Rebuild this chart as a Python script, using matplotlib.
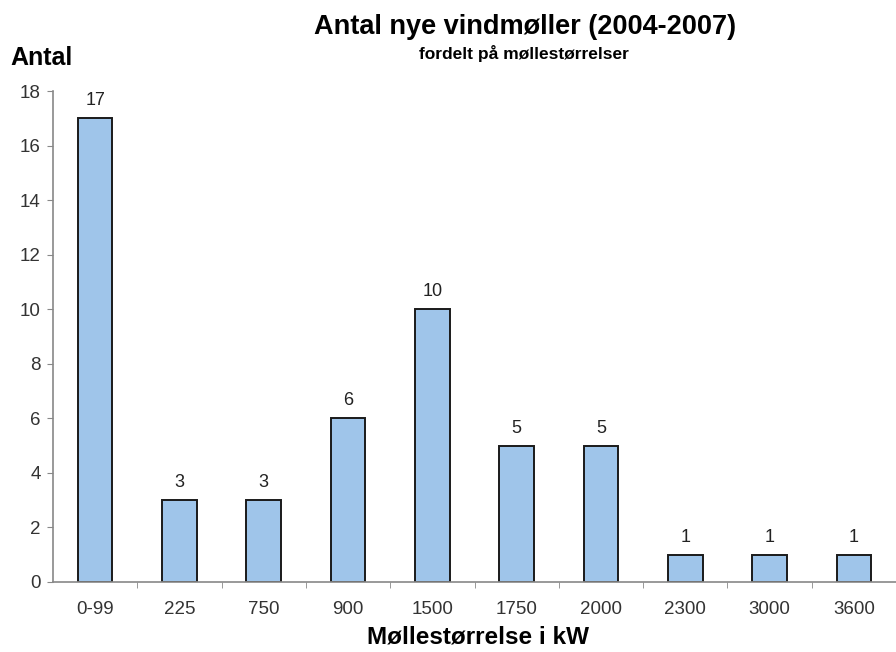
import matplotlib
matplotlib.use("Agg")
import matplotlib.pyplot as plt
import numpy as np

plt.rcParams["font.family"] = ["Liberation Sans", "DejaVu Sans"]

categories = ["0-99", "225", "750", "900", "1500", "1750", "2000", "2300", "3000", "3600"]
counts = [17, 3, 3, 6, 10, 5, 5, 1, 1, 1]

fig = plt.figure(figsize=(8.96, 6.52), dpi=100)
ax = fig.add_axes([53 / 896, 1 - 582 / 652, 1 - 53 / 896, (582 - 91) / 652])

x = np.arange(len(categories))
ax.bar(x, counts, width=0.41, color="#9fc5ea", edgecolor="#1a1a1a", linewidth=1.4, zorder=2)
for xi, v in zip(x, counts):
    ax.text(xi, v + 0.33, str(v), ha="center", va="bottom", fontsize=13, color="#222222")

ax.set_xlim(-0.5, len(categories) - 0.5)
ax.set_ylim(0, 18)
ax.set_yticks(range(0, 19, 2))
ax.set_xticks(x)
ax.set_xticklabels(categories, fontsize=13.5, color="#333333")
ax.set_xticks(np.arange(0.5, len(categories) - 0.5, 1), minor=True)
ax.tick_params(axis="x", which="major", length=0, pad=14)
ax.tick_params(axis="x", which="minor", length=4, color="#888888", direction="out")
ax.tick_params(axis="y", length=4, color="#888888", labelsize=13.5, labelcolor="#333333", pad=5)

for s in ("top", "right"):
    ax.spines[s].set_visible(False)
for s in ("left", "bottom"):
    ax.spines[s].set_color("#888888")
    ax.spines[s].set_linewidth(1.2)

fig.text(525 / 896, 1 - 27 / 652, "Antal nye vindmøller (2004-2007)", ha="center", va="center",
         fontsize=19.5, fontweight="bold")
fig.text(524 / 896, 1 - 53 / 652, "fordelt på møllestørrelser", ha="center", va="center",
         fontsize=12.5, fontweight="bold")
fig.text(10 / 896, 1 - 58 / 652, "Antal", ha="left", va="center", fontsize=18, fontweight="bold")
fig.text(478 / 896, 1 - 637 / 652, "Møllestørrelse i kW", ha="center", va="center",
         fontsize=17.5, fontweight="bold")

fig.savefig("out.png", dpi=100)
